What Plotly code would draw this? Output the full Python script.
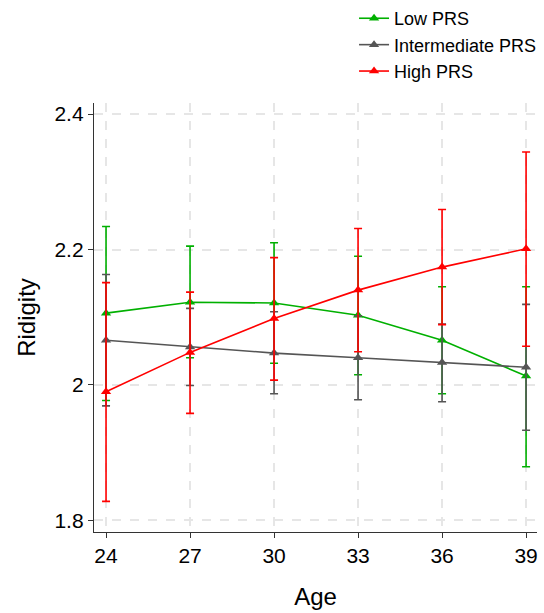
import plotly.graph_objects as go

ages = [24, 27, 30, 33, 36, 39]

low_mean = [2.106, 2.122, 2.121, 2.103, 2.066, 2.013]
low_upper = [2.234, 2.205, 2.210, 2.190, 2.145, 2.145]
low_lower = [1.977, 2.040, 2.032, 2.015, 1.987, 1.879]

int_mean = [2.066, 2.056, 2.047, 2.040, 2.033, 2.026]
int_upper = [2.163, 2.113, 2.108, 2.102, 2.090, 2.119]
int_lower = [1.969, 1.999, 1.987, 1.978, 1.975, 1.933]

high_mean = [1.990, 2.048, 2.098, 2.140, 2.174, 2.201]
high_upper = [2.151, 2.137, 2.188, 2.231, 2.259, 2.344]
high_lower = [1.828, 1.958, 2.007, 2.049, 2.089, 2.057]

series = [
    ("Low PRS", low_mean, low_upper, low_lower, "#00b000"),
    ("Intermediate PRS", int_mean, int_upper, int_lower, "#555555"),
    ("High PRS", high_mean, high_upper, high_lower, "#ff0000"),
]

fig = go.Figure()
for name, m, up, lo, col in series:
    fig.add_trace(go.Scatter(
        x=ages, y=m, name=name, mode="lines+markers",
        line=dict(color=col, width=1.6),
        marker=dict(symbol="triangle-up", size=9, color=col),
        error_y=dict(type="data", symmetric=False,
                     array=[u - v for u, v in zip(up, m)],
                     arrayminus=[v - l for v, l in zip(m, lo)],
                     color=col, thickness=1.6, width=4),
    ))

font = "Liberation Sans, Arial, sans-serif"
fig.update_layout(
    width=544, height=613,
    margin=dict(l=94, r=7, t=103, b=81, autoexpand=False),
    paper_bgcolor="white", plot_bgcolor="white",
    font=dict(family=font, color="black"),
    showlegend=True,
    legend=dict(x=0.587, y=1.24, xanchor="left", yanchor="top",
                font=dict(size=18, family=font), bgcolor="rgba(0,0,0,0)",
                tracegroupgap=0, itemwidth=30),
    xaxis=dict(range=[23.57, 39.39], tickvals=ages, ticktext=[str(a) for a in ages],
               showline=True, linecolor="#333333", linewidth=1.3,
               ticks="outside", ticklen=5, tickcolor="#333333", tickwidth=1.3,
               showgrid=True, gridcolor="#e6e6e6", griddash="dash", gridwidth=1.5,
               zeroline=False, tickfont=dict(size=21),
               title=dict(text="Age", font=dict(size=24), standoff=21)),
    yaxis=dict(range=[1.7827, 2.4164], tickvals=[1.8, 2.0, 2.2, 2.4],
               ticktext=["1.8", "2", "2.2", "2.4"],
               showline=True, linecolor="#333333", linewidth=1.3,
               ticks="outside", ticklen=5, tickcolor="#333333", tickwidth=1.3,
               showgrid=True, gridcolor="#e6e6e6", griddash="dash", gridwidth=1.5,
               zeroline=False, tickfont=dict(size=21),
               title=dict(text="Ridigity", font=dict(size=24), standoff=12)),
)

fig.write_html("out.html", config={"displayModeBar": False},
               post_script="document.body.style.margin='0';document.body.style.padding='0';")
